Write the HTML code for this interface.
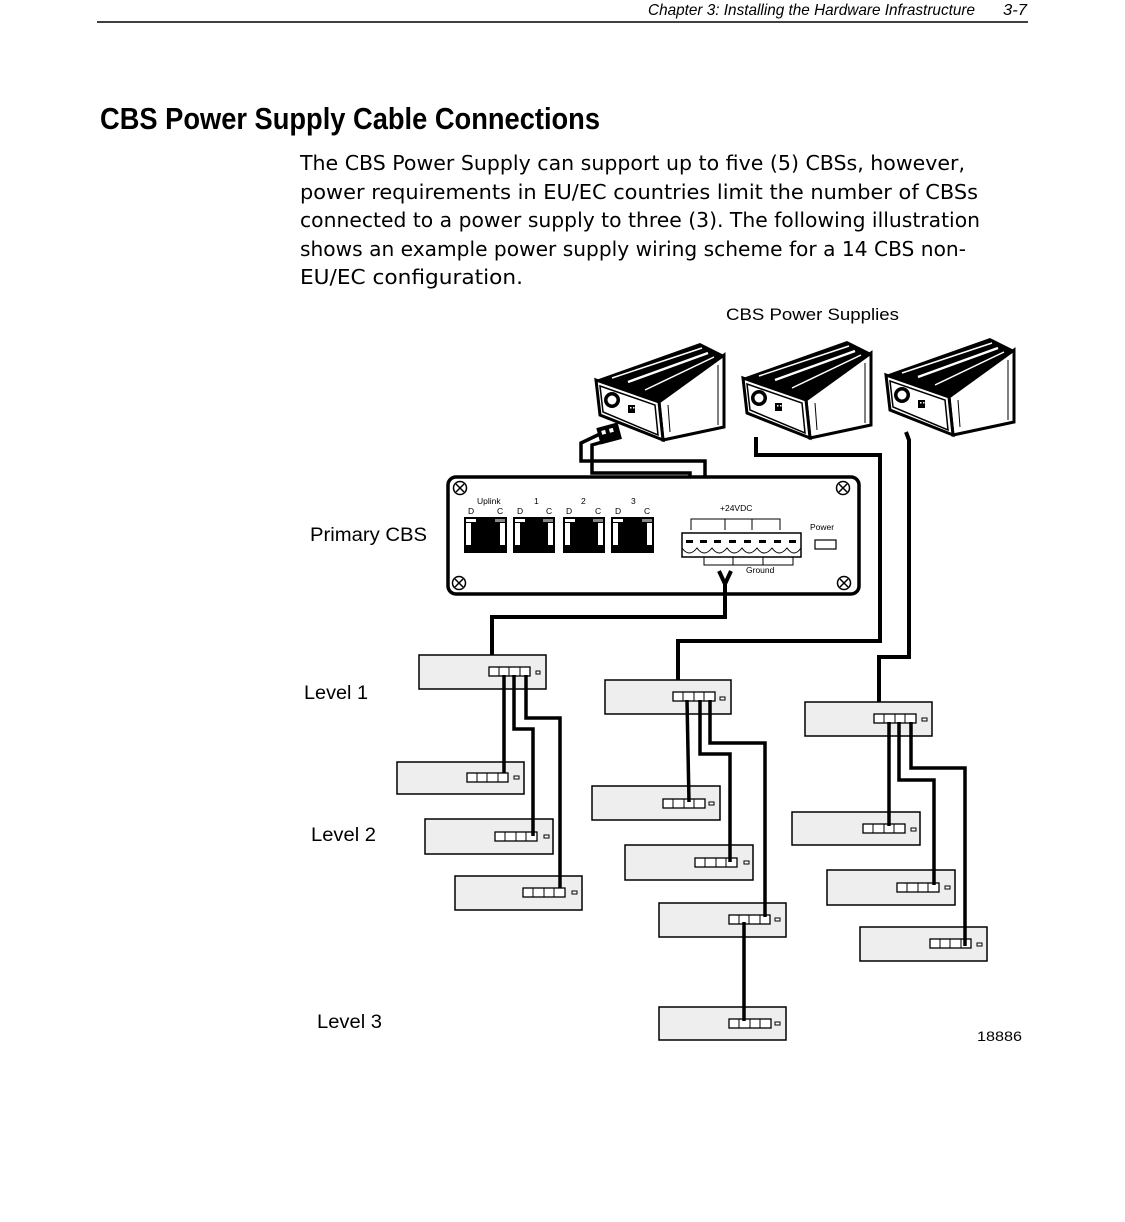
<!DOCTYPE html>
<html><head><meta charset="utf-8"><style>
html,body{margin:0;padding:0;background:#fff;}
svg{display:block;}
text{font-family:"Liberation Sans",sans-serif;}
</style></head><body>
<svg width="1125" height="1222" viewBox="0 0 1125 1222" xmlns="http://www.w3.org/2000/svg">
<!-- header -->
<text x="648" y="15" font-size="16" font-style="italic" textLength="327" lengthAdjust="spacingAndGlyphs">Chapter 3: Installing the Hardware Infrastructure</text>
<text x="1003" y="15" font-size="16" font-style="italic" textLength="24" lengthAdjust="spacingAndGlyphs">3-7</text>
<line x1="97" y1="22" x2="1028" y2="22" stroke="#000" stroke-width="1.5"/>
<text x="100" y="129" font-size="31" font-weight="bold" textLength="500" lengthAdjust="spacingAndGlyphs">CBS Power Supply Cable Connections</text>
<g font-family="DejaVu Sans" font-size="20">
<text x="300" y="170" textLength="665" lengthAdjust="spacingAndGlyphs" style="font-family:'DejaVu Sans',sans-serif">The CBS Power Supply can support up to five (5) CBSs, however,</text>
<text x="300" y="199" textLength="678" lengthAdjust="spacingAndGlyphs" style="font-family:'DejaVu Sans',sans-serif">power requirements in EU/EC countries limit the number of CBSs</text>
<text x="300" y="227" textLength="680" lengthAdjust="spacingAndGlyphs" style="font-family:'DejaVu Sans',sans-serif">connected to a power supply to three (3). The following illustration</text>
<text x="300" y="256" textLength="666" lengthAdjust="spacingAndGlyphs" style="font-family:'DejaVu Sans',sans-serif">shows an example power supply wiring scheme for a 14 CBS non-</text>
<text x="300" y="284" textLength="223" lengthAdjust="spacingAndGlyphs" style="font-family:'DejaVu Sans',sans-serif">EU/EC configuration.</text>
</g>
<!-- labels -->
<text x="726" y="320" font-size="17" textLength="173" lengthAdjust="spacingAndGlyphs">CBS Power Supplies</text>
<text x="310" y="541" font-size="19" textLength="117" lengthAdjust="spacingAndGlyphs">Primary CBS</text>
<text x="304" y="699" font-size="19" textLength="64" lengthAdjust="spacingAndGlyphs">Level 1</text>
<text x="311" y="841" font-size="19" textLength="65" lengthAdjust="spacingAndGlyphs">Level 2</text>
<text x="317" y="1028" font-size="19" textLength="65" lengthAdjust="spacingAndGlyphs">Level 3</text>
<text x="977" y="1041" font-size="14" textLength="45" lengthAdjust="spacingAndGlyphs">18886</text>

<!-- power supplies -->
<defs>
<g id="ps">
<polygon points="596,380 700,343 724,355 659,402" fill="#000"/>
<line x1="612" y1="378" x2="702" y2="348" stroke="#fff" stroke-width="1.5"/>
<line x1="628" y1="382" x2="708" y2="353" stroke="#fff" stroke-width="2.5"/>
<line x1="645" y1="390" x2="714" y2="357" stroke="#fff" stroke-width="1.5"/>
<polygon points="659,402 724,355 724,427 663,440" fill="#fff" stroke="#000" stroke-width="3"/>
<line x1="668" y1="405" x2="670" y2="432" stroke="#000" stroke-width="1"/>
<line x1="718" y1="365" x2="718" y2="425" stroke="#000" stroke-width="1"/>
<polygon points="596,380 659,402 663,440 600,415" fill="#fff" stroke="#000" stroke-width="3"/>
<polygon points="600,386 655,405 658,435 603,412" fill="none" stroke="#000" stroke-width="1.5"/>
<circle cx="612" cy="400" r="8" fill="#000"/>
<circle cx="612" cy="400" r="4.5" fill="#fff"/>
<rect x="628" y="405" width="7" height="8" fill="#000"/>
<rect x="630" y="407" width="1.5" height="1.5" fill="#fff"/><rect x="633" y="407" width="1.5" height="1.5" fill="#fff"/>
</g>
</defs>
<use href="#ps"/>
<use href="#ps" transform="translate(147,-2)"/>
<use href="#ps" transform="translate(290,-5)"/>

<!-- supply 1 cable into primary -->
<g fill="none" stroke="#000" stroke-width="3.5">
<polyline points="602,433 581,443 581,461 705,461 705,515"/>
<polyline points="609,440 592,445 592,473 690,473 690,514"/>
</g>
<rect x="598" y="425" width="22" height="17" fill="#000" transform="rotate(-15 609 433)"/>
<rect x="602" y="429" width="4" height="4" fill="#fff" transform="rotate(-15 609 433)"/>
<rect x="610" y="429" width="4" height="4" fill="#fff" transform="rotate(-15 609 433)"/>

<!-- primary CBS -->
<rect x="448" y="477" width="411" height="117" rx="8" fill="#fff" stroke="#000" stroke-width="3.5"/>
<g stroke="#000" stroke-width="1.5" fill="#fff">
<circle cx="460" cy="488" r="6.5"/><circle cx="843" cy="488" r="6.5"/>
<circle cx="459" cy="583" r="6.5"/><circle cx="844" cy="583" r="6.5"/>
<path d="M456,484 l8,8 M464,484 l-8,8 M839,484 l8,8 M847,484 l-8,8 M455,579 l8,8 M463,579 l-8,8 M840,579 l8,8 M848,579 l-8,8"/>
</g>
<g font-size="8.5">
<text x="477" y="504">Uplink</text><text x="534" y="504">1</text><text x="581" y="504">2</text><text x="631" y="504">3</text>
<text x="468" y="514">D</text><text x="497" y="514">C</text><text x="517" y="514">D</text><text x="546" y="514">C</text>
<text x="566" y="514">D</text><text x="595" y="514">C</text><text x="615" y="514">D</text><text x="644" y="514">C</text>
<text x="720" y="511">+24VDC</text><text x="746" y="573">Ground</text><text x="810" y="530">Power</text>
</g>
<g>
<rect x="464" y="517" width="43" height="36" fill="#000"/>
<rect x="513" y="517" width="42" height="36" fill="#000"/>
<rect x="563" y="517" width="42" height="36" fill="#000"/>
<rect x="611" y="517" width="43" height="36" fill="#000"/>
<g fill="#fff">
<rect x="466" y="519" width="10" height="3"/><rect x="515" y="519" width="10" height="3"/><rect x="565" y="519" width="10" height="3"/><rect x="613" y="519" width="10" height="3"/>
<rect x="466" y="523" width="5" height="22"/><rect x="500" y="523" width="5" height="22"/>
<rect x="515" y="523" width="5" height="22"/><rect x="548" y="523" width="5" height="22"/>
<rect x="565" y="523" width="5" height="22"/><rect x="598" y="523" width="5" height="22"/>
<rect x="613" y="523" width="5" height="22"/><rect x="647" y="523" width="5" height="22"/>
</g>
<g fill="#888"><rect x="495" y="519" width="10" height="3"/><rect x="543" y="519" width="10" height="3"/><rect x="593" y="519" width="10" height="3"/><rect x="642" y="519" width="10" height="3"/></g>
</g>
<!-- terminal block -->
<g stroke="#000" fill="none" stroke-width="1">
<polyline points="691,530 691,519 780,519 780,530"/>
<line x1="725" y1="519" x2="725" y2="530"/><line x1="752" y1="519" x2="752" y2="530"/>
<polyline points="704,557 704,565 793,565 793,557"/>
<line x1="733" y1="557" x2="733" y2="565"/><line x1="763" y1="557" x2="763" y2="565"/>
</g>
<rect x="682" y="533" width="119" height="24" fill="#fff" stroke="#000" stroke-width="1.5"/>
<path d="M682,548 q7,10 15,0 q7,10 15,0 q7,10 15,0 q7,10 15,0 q7,10 15,0 q7,10 15,0 q7,10 15,0 q7,10 14,0" fill="none" stroke="#000" stroke-width="1"/>
<g fill="#000">
<rect x="686" y="540" width="7" height="3"/><rect x="700" y="540" width="7" height="3"/><rect x="714" y="540" width="7" height="3"/>
<rect x="729" y="540" width="7" height="3"/><rect x="744" y="540" width="7" height="3"/><rect x="759" y="540" width="7" height="3"/>
<rect x="774" y="540" width="7" height="3"/><rect x="789" y="540" width="7" height="3"/>
</g>
<rect x="815" y="540" width="21" height="9" fill="#fff" stroke="#000" stroke-width="1.2"/>

<!-- Y and wires -->
<g fill="none" stroke="#000" stroke-width="4">
<polyline points="719,571 725,584 731,571"/>
<polyline points="725,584 725,617 492,617 492,672"/>
<polyline points="756,437 756,455 880,455 880,641 678,641 678,696"/>
<polyline points="906,432 909,440 909,657 879,657 879,718"/>
</g>

<!-- CBS boxes -->
<g fill="#eeeeee" stroke="#000" stroke-width="1.5">
<rect x="419" y="655" width="127" height="34"/>
<rect x="397" y="762" width="127" height="32"/>
<rect x="425" y="819" width="128" height="35"/>
<rect x="455" y="876" width="127" height="34"/>
<rect x="605" y="680" width="126" height="34"/>
<rect x="592" y="786" width="128" height="34"/>
<rect x="625" y="845" width="128" height="35"/>
<rect x="659" y="903" width="127" height="34"/>
<rect x="659" y="1007" width="127" height="33"/>
<rect x="805" y="702" width="127" height="34"/>
<rect x="792" y="812" width="128" height="33"/>
<rect x="827" y="870" width="128" height="35"/>
<rect x="860" y="927" width="127" height="34"/>
</g>
<g fill="#fff" stroke="#000" stroke-width="1.3">
<!-- ports groups: x,y width 42 height 9 -->
<rect x="489" y="667" width="41" height="9"/>
<rect x="467" y="773" width="41" height="9"/>
<rect x="495" y="832" width="42" height="9"/>
<rect x="523" y="888" width="42" height="9"/>
<rect x="673" y="692" width="42" height="9"/>
<rect x="663" y="799" width="42" height="9"/>
<rect x="695" y="858" width="42" height="9"/>
<rect x="729" y="915" width="41" height="9"/>
<rect x="729" y="1019" width="42" height="9"/>
<rect x="874" y="714" width="42" height="9"/>
<rect x="863" y="824" width="42" height="9"/>
<rect x="897" y="883" width="42" height="9"/>
<rect x="930" y="939" width="41" height="9"/>
</g>
<g stroke="#000" stroke-width="1">
<path d="M499,667v9M509,667v9M520,667v9 M477,773v9M487,773v9M498,773v9 M505,832v9M516,832v9M526,832v9 M533,888v9M544,888v9M554,888v9 M683,692v9M694,692v9M704,692v9 M673,799v9M684,799v9M694,799v9 M705,858v9M716,858v9M726,858v9 M739,915v9M749,915v9M760,915v9 M739,1019v9M750,1019v9M760,1019v9 M884,714v9M895,714v9M905,714v9 M873,824v9M884,824v9M894,824v9 M907,883v9M918,883v9M928,883v9 M940,939v9M950,939v9M961,939v9"/>
</g>
<g fill="#fff" stroke="#000" stroke-width="1">
<rect x="536" y="671" width="4" height="3"/><rect x="514" y="776" width="5" height="3"/><rect x="544" y="835" width="5" height="3"/>
<rect x="572" y="891" width="5" height="3"/><rect x="720" y="697" width="5" height="3"/><rect x="709" y="802" width="5" height="3"/>
<rect x="744" y="861" width="5" height="3"/><rect x="775" y="918" width="5" height="3"/><rect x="775" y="1022" width="5" height="3"/>
<rect x="922" y="718" width="5" height="3"/><rect x="911" y="828" width="5" height="3"/><rect x="945" y="886" width="5" height="3"/>
<rect x="977" y="943" width="5" height="3"/>
</g>
<g fill="none" stroke="#000" stroke-width="3.5">
<polyline points="504,675 504,773"/>
<polyline points="514,675 514,729 533,729 533,836"/>
<polyline points="526,675 526,718 560,718 560,888"/>
<polyline points="687,700 689,802"/>
<polyline points="700,700 700,754 730,754 730,862"/>
<polyline points="710,700 710,743 765,743 765,917"/>
<polyline points="744,922 744,1021"/>
<polyline points="889,722 889,826"/>
<polyline points="899,722 899,780 934,780 934,885"/>
<polyline points="911,722 911,768 965,768 965,946"/>
</g>
</svg>
</body></html>
